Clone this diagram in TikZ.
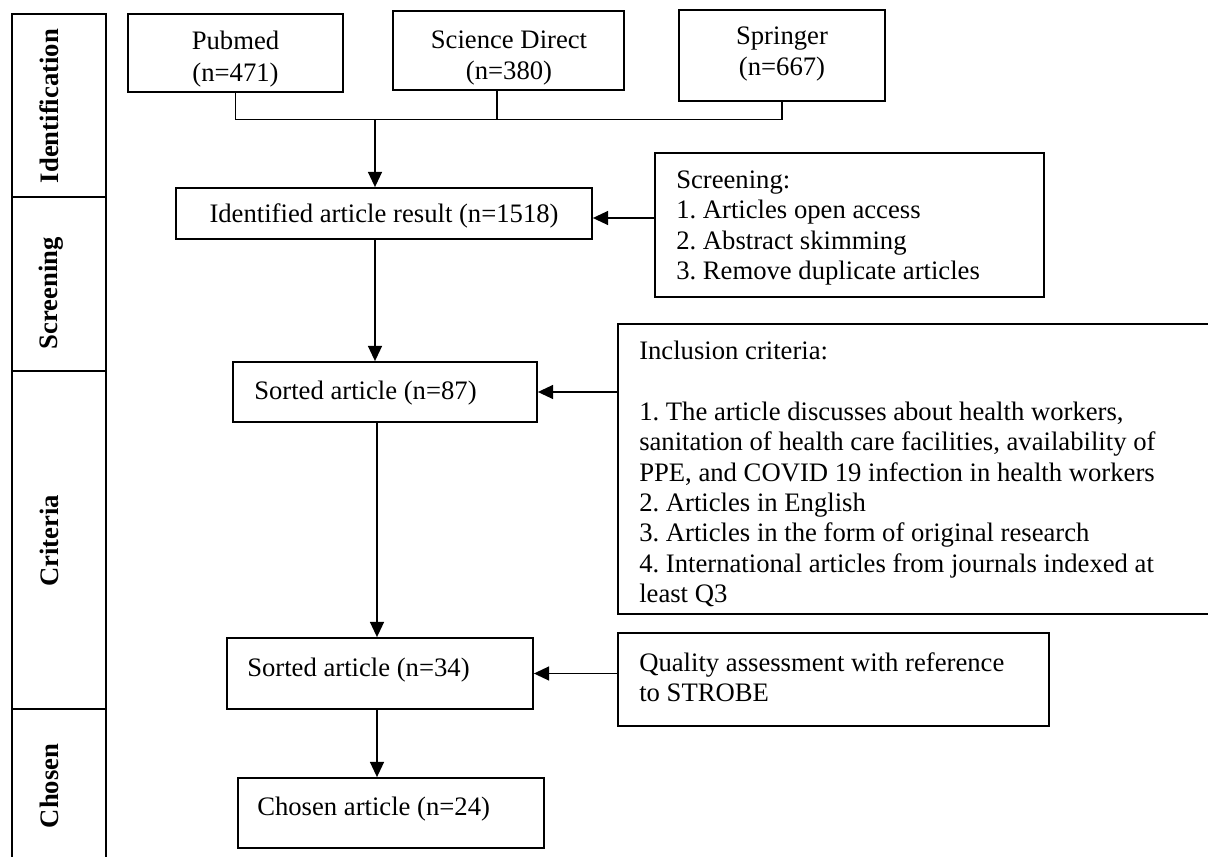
\documentclass[tikz,border=0pt]{standalone}
\usepackage{fontspec}
\setmainfont{Liberation Serif}
\usetikzlibrary{arrows.meta,fit}
\frenchspacing
\begin{document}
\begin{tikzpicture}[x=0.75pt,y=-0.75pt,
  box/.style={draw, line width=1.3pt, inner sep=0pt, rectangle},
  cell/.style={draw, line width=1.7pt, inner sep=0pt, rectangle},
  txt/.style={font=\fontsize{20}{22.75}\selectfont, inner sep=0pt, align=left},
  ctxt/.style={font=\fontsize{20}{23.5}\selectfont, inner sep=0pt, align=center},
  phase/.style={font=\fontsize{20}{24}\selectfont\bfseries, rotate=90, inner sep=0pt},
  conn/.style={line width=1.3pt},
  arr/.style={conn, -{Triangle[length=11.5pt,width=10.5pt]}}]
\useasboundingbox (0,0) rectangle (1208,857);

% phase column
\node[cell, fit={(12,14) (106,197)}] (c1) {};
\node[cell, fit={(12,197) (106,371)}] (c2) {};
\node[cell, fit={(12,371) (106,709)}] (c3) {};
\node[cell, fit={(12,709) (106,870)}] (c4) {};
\node[phase] (p1) at (49.5,106) {Identification};
\node[phase] (p2) at (51,293) {Screening};
\node[phase] (p3) at (49.5,541) {Criteria};
\node[phase] (p4) at (49.5,786) {Chosen};

% sources
\node[box, fit={(128,14) (343,92)}] (pub) {};
\node[box, fit={(393,11) (624,90)}] (sd) {};
\node[box, fit={(679,10) (885,101)}] (spr) {};
\node[ctxt] (pubt) at (235.5,59) {Pubmed\\(n=471)};
\node[ctxt] (sdt) at (509,58) {Science Direct\\(n=380)};
\node[ctxt] (sprt) at (782,54) {Springer\\(n=667)};

% main flow
\node[box, fit={(176,188) (592,239)}] (idf) {};
\node[ctxt] (idft) at (384,216) {Identified article result (n=1518)};
\node[box, fit={(233,362) (537,422)}] (s87) {};
\node[txt, anchor=west] (s87t) at (254,393) {Sorted article (n=87)};
\node[box, fit={(227,638) (533,709)}] (s34) {};
\node[txt, anchor=west] (s34t) at (247,670) {Sorted article (n=34)};
\node[box, fit={(238,778) (544,848)}] (ch) {};
\node[txt, anchor=west] (cht) at (257,809) {Chosen article (n=24)};

% side boxes
\node[box, fit={(655,153) (1044,297)}] (scr) {};
\node[txt, anchor=west] (scrt) at (676,228) {Screening:\\1. Articles open access\\2. Abstract skimming\\3. Remove duplicate articles};
\node[box, fit={(618,324) (1214,614)}] (inc) {};
\node[txt, anchor=west] (inct) at (639,474) {Inclusion criteria:\\[22.75pt]
1. The article discusses about health workers,\\
sanitation of health care facilities, availability of\\
PPE, and COVID 19 infection in health workers\\
2. Articles in English\\
3. Articles in the form of original research\\
4. International articles from journals indexed at\\
least Q3};
\node[box, fit={(618,633) (1049,726)}] (qual) {};
\node[txt, anchor=west] (qualt) at (639,677) {Quality assessment with reference\\to STROBE};

% connectors
\coordinate (bus) at (375,119.5);
\coordinate (sdx) at (497,0);
\coordinate (mx) at (377,0);
\draw[conn] (pub.south) -- (pub.south |- bus) -- (spr.south |- bus) -- (spr.south);
\draw[conn] (sd.south -| sdx) -- (sdx |- bus);
\draw[arr] (bus) -- (bus |- idf.north);
\coordinate (a1) at ([yshift=5.25pt]scr.west);
\draw[arr] (a1) -- (a1 -| idf.east);
\draw[arr] (bus |- idf.south) -- (bus |- s87.north);
\draw[arr] (inc.west |- s87.east) -- (s87.east);
\draw[arr] (mx |- s87.south) -- (mx |- s34.north);
\draw[arr] (qual.west |- s34.east) -- (s34.east);
\draw[arr] (mx |- s34.south) -- (mx |- ch.north);
\end{tikzpicture}
\end{document}
